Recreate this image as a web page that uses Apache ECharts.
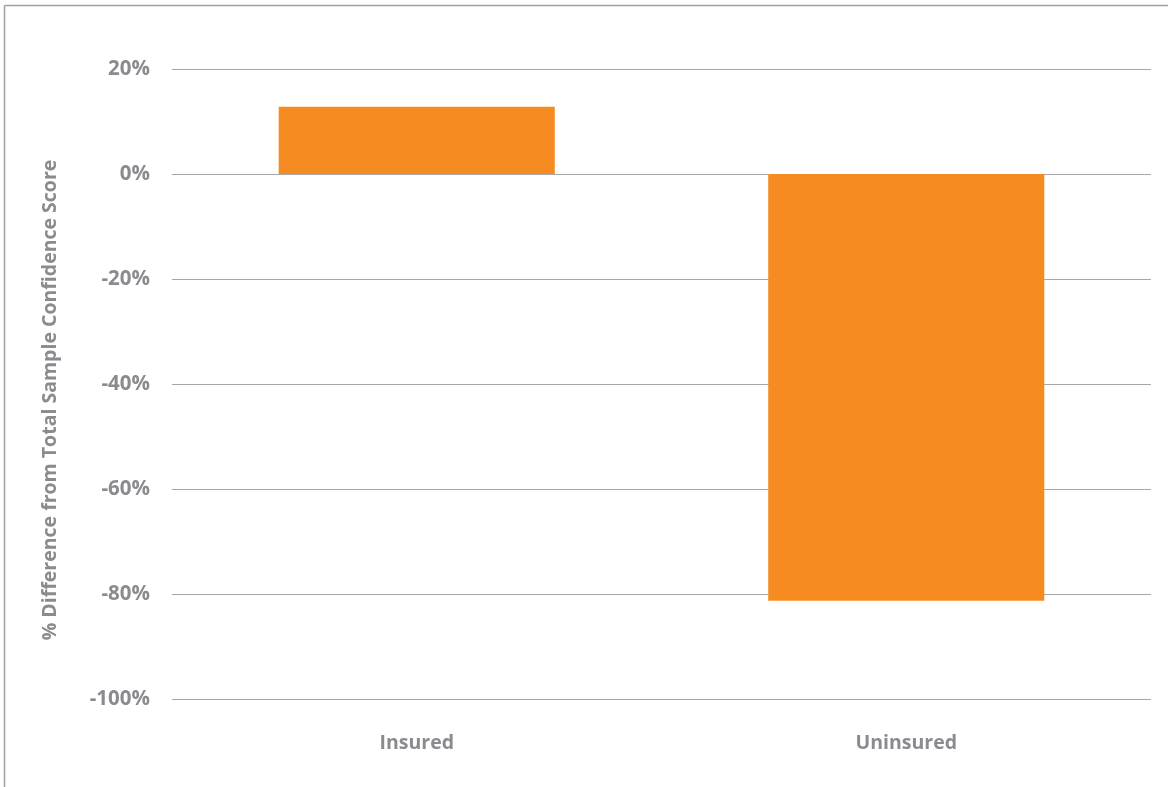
<!DOCTYPE html>
<html>
<head>
<meta charset="utf-8">
<script src="https://cdn.jsdelivr.net/npm/echarts@6/dist/echarts.min.js"></script>
<style>
  html, body { margin: 0; padding: 0; background: #fff; }
  #chart { width: 1168px; height: 787px; }
</style>
</head>
<body>
<div id="chart"></div>
<script>
// Confidence score difference relative to the total sample, by insurance status
const categories = ['Insured', 'Uninsured'];
const diffPercent = [12.8, -81.3];
const yTicks = { min: -100, max: 20, interval: 20 };

const textColor = '#8a8b8f';
const fontFamily = '"Open Sans", "Noto Sans", sans-serif';

const chart = echarts.init(document.getElementById('chart'));
chart.setOption({
  animation: false,
  backgroundColor: '#ffffff',
  grid: { left: 172, right: 17, top: 69, bottom: 88, containLabel: false },
  xAxis: {
    type: 'category',
    data: categories,
    axisLine: { show: false },
    axisTick: { show: false },
    axisLabel: {
      margin: 34,
      color: textColor,
      fontFamily: fontFamily,
      fontWeight: 'bold',
      fontSize: 19.5
    }
  },
  yAxis: {
    type: 'value',
    min: yTicks.min,
    max: yTicks.max,
    interval: yTicks.interval,
    name: '% Difference from Total Sample Confidence Score',
    nameLocation: 'middle',
    nameGap: 112,
    nameRotate: 90,
    nameTextStyle: {
      color: textColor,
      fontFamily: fontFamily,
      fontWeight: 'bold',
      fontSize: 19.5,
      padding: [0, 32, 0, 0]
    },
    axisLine: { show: false },
    axisTick: { show: false },
    axisLabel: {
      margin: 22,
      color: textColor,
      fontFamily: fontFamily,
      fontWeight: 'bold',
      fontSize: 20.5,
      padding: [16, 0, 0, 0],
      formatter: v => v + '%'
    },
    splitLine: { lineStyle: { color: '#a6a6a6', width: 1.2 } }
  },
  series: [{
    type: 'bar',
    data: diffPercent,
    barWidth: '56.4%',
    itemStyle: { color: '#f68b21' }
  }],
  graphic: [
    { type: 'line', shape: { x1: 4.5, y1: 5.5, x2: 1168, y2: 5.5 }, style: { stroke: '#a0a0a0', lineWidth: 1.5 } },
    { type: 'line', shape: { x1: 4.5, y1: 5.5, x2: 4.5, y2: 787 }, style: { stroke: '#a0a0a0', lineWidth: 1.5 } }
  ]
});
</script>
</body>
</html>
